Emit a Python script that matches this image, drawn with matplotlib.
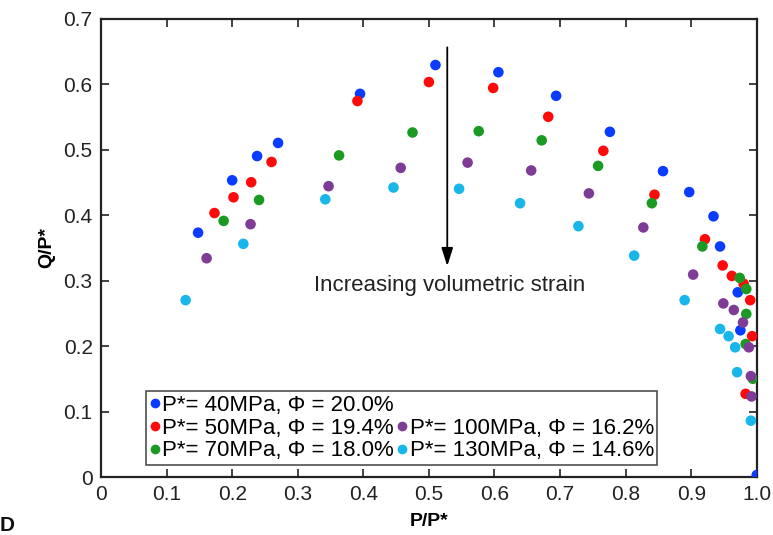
import matplotlib
matplotlib.use("Agg")
from matplotlib import pyplot as plt
from matplotlib.lines import Line2D

plt.rcParams['font.family'] = ['Liberation Sans', 'DejaVu Sans']

# P* = 40 MPa, phi = 20.0 %
x40 = [0.148, 0.200, 0.238, 0.270, 0.395, 0.510, 0.606, 0.694, 0.776, 0.857,
       0.897, 0.934, 0.944, 0.971, 0.975, 1.000]
y40 = [0.373, 0.453, 0.490, 0.510, 0.585, 0.629, 0.618, 0.582, 0.527, 0.467,
       0.435, 0.398, 0.352, 0.282, 0.224, 0.003]
# P* = 50 MPa, phi = 19.4 %
x50 = [0.173, 0.202, 0.229, 0.260, 0.391, 0.500, 0.598, 0.682, 0.766, 0.844,
       0.921, 0.948, 0.962, 0.980, 0.990, 0.993, 0.983]
y50 = [0.403, 0.427, 0.450, 0.481, 0.574, 0.603, 0.594, 0.550, 0.498, 0.431,
       0.363, 0.323, 0.307, 0.295, 0.270, 0.215, 0.127]
# P* = 70 MPa, phi = 18.0 %
x70 = [0.187, 0.241, 0.363, 0.475, 0.576, 0.672, 0.758, 0.840, 0.917, 0.974,
       0.984, 0.984, 0.983, 0.994]
y70 = [0.391, 0.423, 0.491, 0.526, 0.528, 0.514, 0.475, 0.418, 0.352, 0.304,
       0.287, 0.249, 0.203, 0.150]
# P* = 100 MPa, phi = 16.2 %
x100 = [0.161, 0.228, 0.347, 0.457, 0.559, 0.656, 0.744, 0.827, 0.903, 0.949,
        0.965, 0.979, 0.988, 0.991, 0.992]
y100 = [0.334, 0.386, 0.444, 0.472, 0.480, 0.468, 0.433, 0.381, 0.309, 0.265,
        0.255, 0.236, 0.198, 0.154, 0.123]
# P* = 130 MPa, phi = 14.6 %
x130 = [0.129, 0.217, 0.342, 0.446, 0.546, 0.639, 0.728, 0.813, 0.890, 0.944,
        0.957, 0.967, 0.970, 0.991]
y130 = [0.270, 0.356, 0.424, 0.442, 0.440, 0.418, 0.383, 0.338, 0.270, 0.226,
        0.215, 0.198, 0.160, 0.086]

labels = ['P*= 40MPa, Φ = 20.0%', 'P*= 50MPa, Φ = 19.4%', 'P*= 70MPa, Φ = 18.0%',
          'P*= 100MPa, Φ = 16.2%', 'P*= 130MPa, Φ = 14.6%']
colors = ['#0a3cff', '#ff0a0a', '#1a9a22', '#7e3c96', '#19b6ea']
series = [(x40, y40), (x50, y50), (x70, y70), (x100, y100), (x130, y130)]

fig = plt.figure(figsize=(7.73, 5.35), dpi=100)
ax = fig.add_axes([0.1307, 0.1084, 0.8483, 0.857])

for (xs, ys), c in zip(series, colors):
    ax.scatter(xs, ys, s=58, color=c, edgecolors='none', zorder=3)

ax.set_xlim(0, 1.0)
ax.set_ylim(0, 0.7)
ax.set_xticks([0, 0.1, 0.2, 0.3, 0.4, 0.5, 0.6, 0.7, 0.8, 0.9, 1.0])
ax.set_xticklabels(['0', '0.1', '0.2', '0.3', '0.4', '0.5', '0.6', '0.7', '0.8', '0.9', '1.0'])
ax.set_yticks([0, 0.1, 0.2, 0.3, 0.4, 0.5, 0.6, 0.7])
ax.set_yticklabels(['0', '0.1', '0.2', '0.3', '0.4', '0.5', '0.6', '0.7'])
ax.tick_params(direction='in', top=True, right=True, length=6, width=1.2,
               labelsize=15, colors='#222222', pad=6)
for sp in ax.spines.values():
    sp.set_linewidth(1.6)
    sp.set_color('#222222')

ax.set_xlabel('P/P*', fontsize=14, fontweight='bold', labelpad=6)
ax.set_ylabel('Q/P*', fontsize=14, fontweight='bold', labelpad=6)

# arrow and annotation
ax.annotate('', xy=(0.528, 0.322), xytext=(0.528, 0.656),
            arrowprops=dict(arrowstyle='-|>,head_width=0.35,head_length=1.1',
                            color='black', lw=1.3, shrinkA=0, shrinkB=0))
ax.text(0.532, 0.293, 'Increasing volumetric strain', fontsize=16,
        ha='center', va='center', color='#222222')

handles = [Line2D([], [], ls='none', marker='o', ms=7, color=c, mec='none')
           for c in colors]
blank = Line2D([], [], ls='none')
leg = ax.legend(handles[:3] + [blank] + handles[3:],
                labels[:3] + [''] + labels[3:],
                ncol=2, loc='lower left', bbox_to_anchor=(0.068, 0.027),
                fontsize=16, frameon=True, fancybox=False,
                handlelength=0.5, handletextpad=0.1, columnspacing=0.1,
                labelspacing=0.08, borderpad=0.15, borderaxespad=0)
leg.get_frame().set_edgecolor('#222222')
leg.get_frame().set_linewidth(1.2)

fig.text(0.0, 0.0, 'D', fontsize=15, fontweight='bold', color='#111111',
         va='bottom')

fig.savefig('out.png', dpi=100)
